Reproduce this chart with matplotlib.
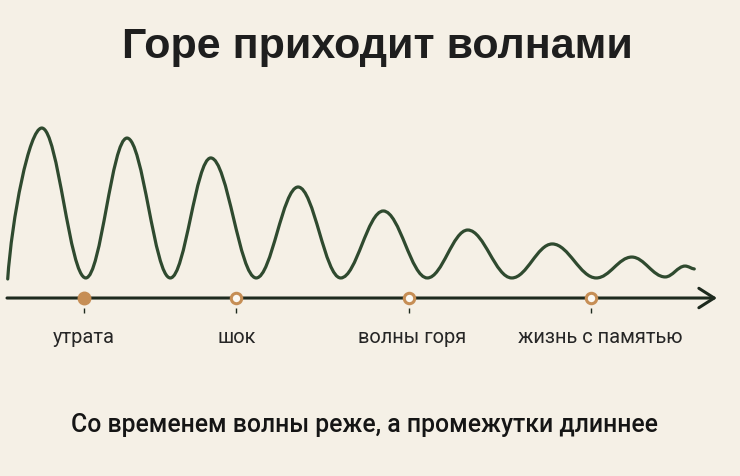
import matplotlib
matplotlib.use("Agg")
import matplotlib.pyplot as plt
from matplotlib.path import Path
from matplotlib.patches import PathPatch

# ---- data ----
title = "Горе приходит волнами"
caption = "Со временем волны реже, а промежутки длиннее"
# wave extremes (time, intensity)
wave_t = [0.1, 4.9, 11.1, 16.9, 23.0, 28.7, 35.1, 41.0, 47.0, 53.0, 59.2,
          64.9, 71.1, 76.8, 83.0, 88.0, 92.7, 95.5, 96.8]
wave_y = [0.112, 1.0, 0.118, 0.941, 0.118, 0.824, 0.118, 0.653, 0.118, 0.512,
          0.118, 0.40, 0.118, 0.318, 0.118, 0.241, 0.124, 0.188, 0.171]
stage_labels = ["утрата", "шок", "волны горя", "жизнь с памятью"]
stage_t = [10.8, 32.3, 56.6, 82.3]
stage_filled = [True, False, False, False]

# ---- style ----
bg = "#F5F0E6"
green = "#2F4A2F"
tan = "#C68E55"
dark = "#1E2A1E"
label_shift = [0.0, 0.1, 0.4, 1.2]

fig = plt.figure(figsize=(7.40, 4.77), dpi=100)
fig.patch.set_facecolor(bg)
ax = fig.add_axes([0, 0, 1, 1])
ax.set_facecolor(bg)
ax.set_xlim(-0.986, 103.24)
ax.set_ylim(-1.047, 1.759)
ax.axis("off")

# smooth wave through extremes using cubic Bezier segments
verts = [(wave_t[0], wave_y[0])]
codes = [Path.MOVETO]
for i in range(len(wave_t) - 1):
    x0, y0 = wave_t[i], wave_y[i]
    x1, y1 = wave_t[i + 1], wave_y[i + 1]
    dx = x1 - x0
    if i == 0:
        c1 = (x0 + 0.12 * dx, y0 + 0.40 * (y1 - y0))
    else:
        c1 = (x0 + 0.37 * dx, y0)
    if i == len(wave_t) - 2:
        c2 = (x1 - 0.3 * dx, y1 + 0.1 * (y0 - y1))
    else:
        c2 = (x1 - 0.37 * dx, y1)
    verts += [c1, c2, (x1, y1)]
    codes += [Path.CURVE4] * 3
ax.add_patch(PathPatch(Path(verts, codes), facecolor="none", edgecolor=green,
                       lw=2.3, capstyle="round", joinstyle="round"))

# time axis with arrow
ax.annotate("", xy=(100.0, 0), xytext=(0.0, 0),
            arrowprops=dict(arrowstyle="->,head_length=0.55,head_width=0.35",
                            color=dark, lw=2.2, mutation_scale=20,
                            shrinkA=0, shrinkB=0))

# stage markers, ticks, labels
for t, lab, filled, sh in zip(stage_t, stage_labels, stage_filled, label_shift):
    ax.vlines(t, -0.06, -0.09, color=dark, lw=1.0)
    if filled:
        ax.plot(t, 0, "o", ms=9, mfc=tan, mec=tan, mew=1, zorder=5)
    else:
        ax.plot(t, 0, "o", ms=7.5, mfc="#FBF8F2", mec=tan, mew=2.2, zorder=5)
    ax.text(t + sh, -0.259, lab, ha="center", va="baseline", fontsize=14.4,
            family="Roboto", color="#262626")

ax.text(52.2, 1.418, title, ha="center", va="baseline", fontsize=31,
        family="Liberation Sans", weight="bold", color="#1E1E1E")
ax.text(50.35, -0.782, caption, ha="center", va="baseline", fontsize=17.8,
        family="Roboto", weight="medium", color="#151515")

fig.savefig("out.png", dpi=100, facecolor=bg)
